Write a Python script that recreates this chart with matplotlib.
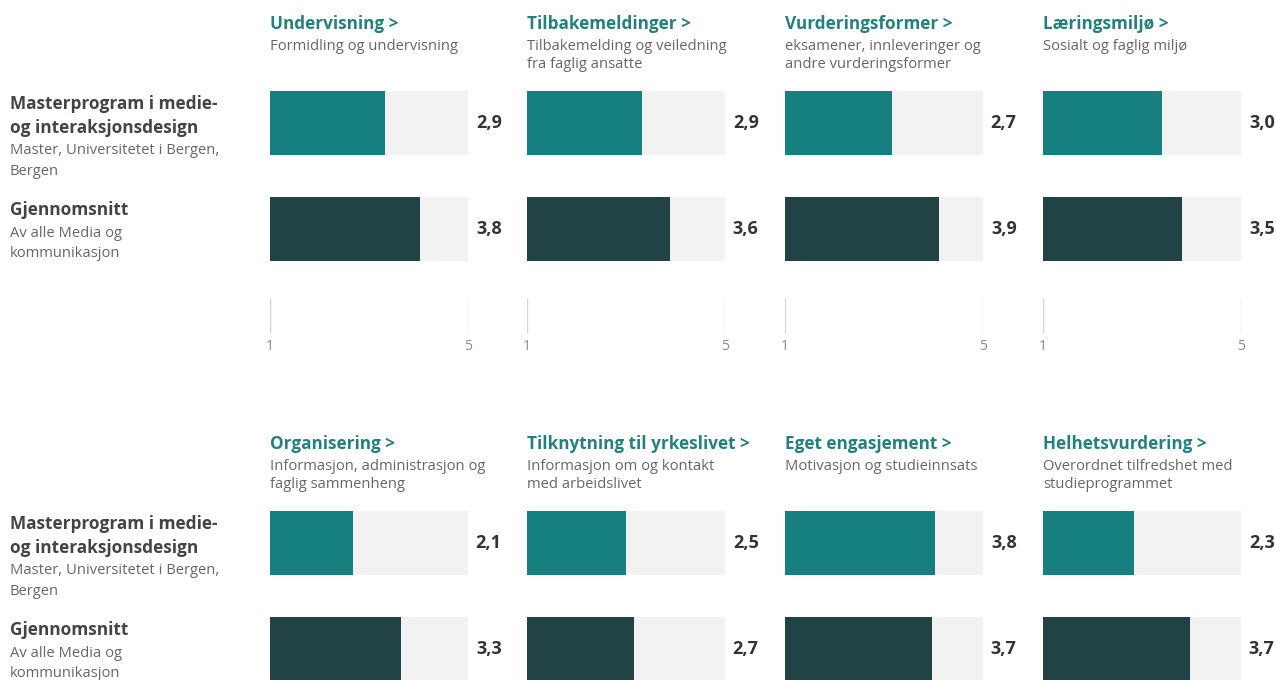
import matplotlib.pyplot as plt

plt.rcParams['font.family'] = ['Open Sans', 'DejaVu Sans']

# Data
titles = ['Undervisning >', 'Tilbakemeldinger >', 'Vurderingsformer >', 'Læringsmiljø >',
          'Organisering >', 'Tilknytning til yrkeslivet >', 'Eget engasjement >', 'Helhetsvurdering >']
subtitles = ['Formidling og undervisning',
             'Tilbakemelding og veiledning\nfra faglig ansatte',
             'eksamener, innleveringer og\nandre vurderingsformer',
             'Sosialt og faglig miljø',
             'Informasjon, administrasjon og\nfaglig sammenheng',
             'Informasjon om og kontakt\nmed arbeidslivet',
             'Motivasjon og studieinnsats',
             'Overordnet tilfredshet med\nstudieprogrammet']
master_values = [2.9, 2.9, 2.7, 3.0, 2.1, 2.5, 3.8, 2.3]
average_values = [3.8, 3.6, 3.9, 3.5, 3.3, 2.7, 3.7, 3.7]
scale_max = 5
tick_labels = ['1', '5']

TEAL = '#167f80'
DARK = '#224346'
TRACK = '#f2f2f2'
TITLE_C = '#23807f'
LABEL_C = '#444444'
SUB_C = '#666666'
VALUE_C = '#333333'

W, H = 1276, 680
fig = plt.figure(figsize=(W / 100, H / 100), dpi=100)


def fx(x):
    return x / W


def fy(y):
    return 1 - y / H


panel_left = [270, 527, 785, 1043]
track_w = 198
row_offset = 420

# bar rows in pixel space (top row)
bar_centers = [122.5, 228.5]
bar_h = 64
ax_top, ax_bot = 80, 360

for i in range(8):
    row, col = divmod(i, 4)
    off = row * row_offset
    x0 = panel_left[col]

    # title and subtitle
    fig.text(fx(x0), fy(29 + off), titles[i], fontsize=12.3, fontweight='bold',
             color=TITLE_C, va='baseline', ha='left')
    for k, line in enumerate(subtitles[i].split('\n')):
        fig.text(fx(x0), fy(49.5 + k * 18.5 + off), line, fontsize=10.6,
                 color=SUB_C, va='baseline', ha='left')

    ax = fig.add_axes([fx(x0), fy(ax_bot + off), track_w / W, (ax_bot - ax_top) / H])
    ax.set_xlim(0, scale_max)
    ax.set_ylim(ax_bot, ax_top)
    ax.axis('off')

    vals = [master_values[i], average_values[i]]
    colors = [TEAL, DARK]
    ax.barh(bar_centers, [scale_max] * 2, height=bar_h, color=TRACK, linewidth=0)
    ax.barh(bar_centers, vals, height=bar_h, color=colors, linewidth=0)
    for yc, v in zip(bar_centers, vals):
        ax.text(scale_max * 1.17, yc + 6, f'{v:.1f}'.replace('.', ','), fontsize=13,
                fontweight='bold', color=VALUE_C, ha='right', va='baseline',
                clip_on=False)

    # scale ticks (only visible for the top row)
    if row == 0:
        for xt, lab in zip([0, scale_max], tick_labels):
            ax.vlines(xt, 298, 333, color='#d6d6d6', linewidth=1)
            ax.text(xt, 350, lab, fontsize=10, color='#8a8a8a', ha='center', va='baseline')

# row labels on the left
left_lines = [
    ('Masterprogram i medie-', 109, True),
    ('og interaksjonsdesign', 133, True),
    ('Master, Universitetet i Bergen,', 154, False),
    ('Bergen', 175, False),
    ('Gjennomsnitt', 215, True),
    ('Av alle Media og', 237, False),
    ('kommunikasjon', 257, False),
]
for row in range(2):
    off = row * row_offset
    for txt, y, bold in left_lines:
        if bold:
            fig.text(fx(10), fy(y + off), txt, fontsize=12.4, fontweight='bold',
                     color=LABEL_C, va='baseline', ha='left')
        else:
            fig.text(fx(10), fy(y + off), txt, fontsize=10.6,
                     color=SUB_C, va='baseline', ha='left')

fig.savefig('out.png', dpi=100, facecolor='white')
